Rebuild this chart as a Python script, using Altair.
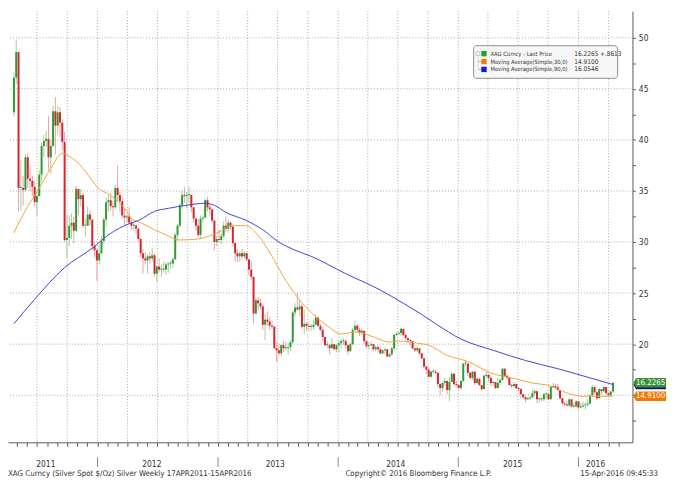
import altair as alt
import pandas as pd
import numpy as np

# ------------------------------------------------------------------ data
first_open = 42.7

close_2011 = [46.1, 48.6, 35.3, 35.3, 35.1, 38.3, 36.2, 36.0, 35.4, 33.9, 34.5, 36.6, 39.4, 39.9, 40.1, 38.3, 39.4, 42.8, 41.4, 42.7, 41.7, 39.8, 30.2, 30.4, 31.6, 31.9, 31.1, 35.2, 34.2, 34.6, 31.6, 31.6, 32.7, 32.2, 29.6, 29.2, 28.2]
high_2011 = [46.6, 49.8, 48.6, 38.0, 36.5, 38.6, 38.7, 37.5, 36.5, 36.0, 34.9, 37.0, 39.7, 40.5, 40.9, 42.3, 40.0, 43.3, 44.2, 43.3, 43.2, 42.0, 40.8, 32.6, 32.6, 32.8, 32.5, 35.5, 34.9, 35.2, 34.8, 32.3, 33.5, 33.1, 32.2, 30.0, 29.3]
low_2011 = [42.3, 45.5, 33.0, 33.1, 33.6, 34.9, 35.3, 35.0, 34.5, 33.5, 32.5, 34.5, 35.9, 38.3, 39.3, 37.0, 36.7, 39.3, 38.6, 40.6, 40.3, 39.0, 30.0, 28.4, 29.6, 30.3, 29.9, 31.0, 32.6, 33.5, 31.4, 30.5, 31.8, 31.6, 29.2, 28.5, 26.2]

close_2012 = [28.9, 30.1, 32.2, 33.9, 34.1, 33.5, 33.4, 35.3, 34.6, 34.0, 32.6, 32.4, 32.5, 31.9, 31.6, 31.6, 31.3, 30.3, 28.9, 28.4, 28.2, 28.6, 28.4, 28.7, 26.9, 27.6, 27.3, 27.3, 27.3, 27.8, 27.9, 27.9, 28.3, 30.7, 31.6, 33.6, 34.6, 34.5, 34.6, 34.6, 33.4, 32.3, 31.6, 30.7, 32.3, 32.4, 34.1, 33.4, 33.2, 32.1, 30.0, 30.3]
high_2012 = [29.7, 30.6, 32.4, 34.4, 34.6, 34.8, 34.0, 35.6, 37.5, 34.9, 34.5, 33.3, 32.8, 33.4, 32.3, 32.0, 31.8, 31.4, 30.4, 29.3, 29.0, 28.8, 29.0, 29.4, 28.9, 27.7, 28.4, 27.8, 28.1, 28.0, 28.0, 28.2, 28.5, 30.9, 31.8, 33.8, 35.0, 35.4, 34.9, 35.4, 34.6, 33.4, 32.4, 32.2, 32.6, 32.6, 34.2, 34.4, 33.7, 33.3, 32.2, 30.6]
low_2012 = [27.8, 28.8, 29.8, 31.5, 33.0, 33.1, 32.5, 33.2, 34.0, 33.0, 32.2, 31.7, 31.9, 31.7, 31.2, 31.1, 30.8, 30.0, 28.5, 26.9, 27.8, 26.9, 27.9, 28.1, 26.6, 26.1, 27.0, 26.6, 27.0, 26.8, 27.0, 27.4, 27.5, 28.3, 30.1, 31.4, 33.2, 33.8, 33.3, 33.8, 32.9, 31.9, 31.1, 30.5, 30.4, 31.9, 32.3, 33.0, 32.6, 31.9, 29.2, 29.6]

close_2013 = [30.2, 30.6, 31.6, 31.3, 31.9, 31.5, 29.9, 28.9, 28.6, 28.9, 28.6, 28.9, 28.3, 27.3, 26.6, 23.0, 24.3, 24.0, 23.7, 21.9, 22.4, 22.2, 21.8, 21.7, 19.6, 19.4, 19.1, 19.9, 19.6, 19.6, 19.7, 20.2, 23.1, 23.6, 23.4, 23.7, 21.7, 22.0, 21.8, 21.7, 21.7, 21.9, 22.6, 21.8, 21.4, 20.7, 19.9, 19.9, 19.6, 20.0, 19.5, 19.9]
high_2013 = [31.2, 30.9, 32.0, 32.5, 32.2, 32.0, 31.6, 30.0, 29.3, 29.1, 29.3, 29.1, 29.0, 28.3, 28.2, 26.4, 24.6, 24.6, 24.5, 23.8, 23.0, 23.2, 22.7, 22.3, 21.8, 20.2, 20.0, 20.0, 20.3, 20.2, 20.1, 20.4, 23.3, 24.0, 25.1, 24.3, 23.9, 23.4, 22.2, 22.1, 22.0, 22.4, 22.9, 22.7, 22.0, 21.7, 20.7, 20.3, 20.0, 20.6, 20.0, 20.0]
low_2013 = [29.9, 29.8, 30.4, 31.0, 30.9, 31.2, 29.6, 28.1, 28.0, 28.1, 28.3, 28.4, 28.1, 26.7, 26.3, 22.0, 22.9, 23.3, 23.4, 21.4, 20.4, 21.8, 21.4, 21.5, 19.5, 18.3, 18.9, 18.8, 19.2, 19.4, 19.0, 19.3, 20.0, 22.7, 23.2, 22.8, 21.5, 21.0, 21.3, 21.3, 21.3, 21.4, 21.9, 21.7, 21.3, 20.3, 19.8, 19.6, 19.0, 19.6, 19.4, 19.2]

close_2014 = [20.1, 20.3, 20.3, 19.9, 19.3, 20.0, 21.4, 21.8, 21.4, 21.1, 21.3, 20.3, 19.8, 19.9, 20.0, 19.5, 19.7, 19.5, 19.1, 19.4, 19.5, 18.8, 19.0, 19.6, 20.9, 21.0, 21.1, 21.5, 20.9, 20.6, 20.4, 20.3, 19.6, 19.4, 19.6, 19.1, 18.6, 17.8, 17.5, 16.8, 17.3, 17.3, 17.2, 16.1, 15.7, 16.2, 16.4, 15.5, 16.3, 17.1, 16.1, 16.0]
high_2014 = [20.3, 20.5, 20.6, 20.5, 20.0, 20.2, 21.6, 22.3, 22.0, 21.6, 21.6, 21.1, 20.2, 20.2, 20.3, 20.0, 19.9, 19.9, 19.7, 19.5, 19.6, 19.5, 19.1, 19.7, 21.0, 21.2, 21.2, 21.6, 21.4, 21.0, 20.6, 20.5, 20.0, 19.6, 19.8, 19.6, 19.0, 18.7, 17.9, 17.7, 17.4, 17.6, 17.5, 17.1, 16.2, 16.3, 16.7, 16.4, 16.8, 17.3, 17.2, 16.4]
low_2014 = [19.2, 19.6, 19.9, 19.6, 18.9, 19.3, 19.9, 21.3, 21.1, 20.8, 20.9, 20.0, 19.6, 19.5, 19.8, 19.4, 19.3, 19.2, 19.0, 19.0, 19.0, 18.7, 18.7, 18.9, 19.4, 20.8, 20.9, 20.8, 20.8, 20.4, 20.1, 19.9, 19.5, 19.2, 19.2, 18.9, 18.5, 17.6, 17.1, 16.8, 16.7, 17.1, 17.0, 15.8, 15.0, 15.3, 15.9, 15.1, 14.4, 16.3, 15.9, 15.8]

close_2015 = [15.7, 16.4, 18.1, 18.1, 17.2, 16.7, 17.3, 16.2, 16.6, 16.0, 15.6, 16.9, 17.0, 16.7, 16.2, 16.3, 15.7, 16.2, 16.5, 17.6, 16.9, 16.7, 16.0, 15.9, 16.1, 15.7, 15.6, 15.1, 14.8, 14.6, 14.7, 14.8, 15.2, 15.4, 14.6, 14.6, 14.6, 15.1, 15.1, 14.6, 15.8, 15.9, 15.8, 15.5, 14.7, 14.2, 14.1, 14.0, 14.6, 13.9, 13.9, 14.4]
high_2015 = [16.1, 16.5, 18.2, 18.5, 18.1, 17.3, 17.4, 17.4, 16.8, 16.7, 16.0, 17.0, 17.3, 17.1, 16.8, 16.4, 16.2, 16.7, 16.6, 17.7, 17.6, 17.1, 16.8, 16.1, 16.3, 16.2, 15.8, 15.7, 15.1, 14.9, 14.9, 14.9, 15.5, 15.6, 15.4, 14.8, 14.8, 15.2, 15.2, 15.1, 15.9, 16.2, 16.1, 16.1, 15.5, 14.8, 14.4, 14.4, 14.7, 14.3, 14.3, 14.5]
low_2015 = [15.6, 15.5, 16.3, 17.8, 16.9, 16.6, 16.5, 16.0, 16.1, 15.9, 15.4, 15.6, 16.7, 16.4, 15.9, 15.9, 15.6, 15.7, 16.0, 16.4, 16.8, 16.5, 15.9, 15.7, 15.7, 15.6, 15.4, 14.7, 14.7, 14.3, 14.5, 14.5, 14.7, 15.0, 14.2, 14.3, 14.4, 14.4, 14.6, 14.5, 14.6, 15.7, 15.6, 15.4, 14.6, 14.1, 13.9, 13.9, 13.8, 13.8, 13.7, 13.8]

close_2016 = [13.8, 13.9, 14.0, 14.1, 14.2, 15.0, 15.8, 15.3, 14.7, 15.6, 15.4, 15.8, 15.2, 15.0, 15.37, 16.2265]
high_2016 = [14.2, 14.3, 14.4, 14.3, 14.6, 15.1, 16.0, 15.9, 15.4, 15.7, 15.6, 15.9, 15.6, 15.3, 15.4, 16.3]
low_2016 = [13.6, 13.7, 13.8, 13.6, 13.9, 14.1, 14.9, 15.1, 14.5, 14.7, 15.1, 15.3, 15.1, 14.8, 14.9, 15.2]

# moving averages (week number -> value)
ma30_weeks = [1, 6, 12, 17, 22, 25, 31, 34, 38, 42, 46, 50, 52, 56, 62, 67, 73, 81, 87, 91, 95, 102, 106, 113, 118, 124, 130, 137, 143, 150, 156, 164, 168, 176, 181, 189, 198, 209, 217, 226, 234, 239, 248, 256, 261]
ma30_vals = [30.9, 33.1, 35.3, 37.2, 38.7, 38.4, 37.2, 36.3, 35.2, 34.7, 34.0, 33.0, 32.3, 31.9, 31.2, 30.7, 30.2, 30.3, 30.7, 31.1, 31.6, 31.6, 30.9, 28.6, 26.6, 24.6, 23.1, 21.8, 21.0, 21.2, 20.8, 20.2, 20.3, 20.1, 19.9, 18.9, 18.3, 17.1, 16.7, 16.2, 15.9, 15.4, 14.9, 14.9, 14.91]
ma90_weeks = [1, 10, 23, 35, 42, 51, 55, 62, 68, 76, 84, 88, 93, 102, 109, 116, 123, 130, 145, 160, 170, 178, 184, 195, 209, 223, 237, 251, 261]
ma90_vals = [22.0, 24.4, 27.5, 29.4, 30.7, 31.8, 32.1, 33.0, 33.3, 33.6, 33.8, 33.6, 32.9, 32.1, 31.2, 30.0, 29.2, 28.6, 26.9, 25.3, 24.0, 22.9, 22.0, 20.5, 19.4, 18.4, 17.6, 16.7, 16.05]

legend_names = ["XAG Curncy - Last Price", "Moving Average(Simple,30,0)", "Moving Average(Simple,90,0)"]
legend_values = ["16.2265", "14.9100", "16.0546"]
legend_change = "+.8613"

tag_values = [16.0546, 14.9100, 16.2265]
tag_labels = ["", "14.9100", "16.2265"]

year_labels = ["2011", "2012", "2013", "2014", "2015", "2016"]
year_mid_dates = ["2011-07-28", "2012-06-14", "2013-06-24", "2014-06-25", "2015-06-15", "2016-02-22"]
year_starts = ["2012-01-01", "2013-01-01", "2014-01-01", "2015-01-01", "2016-01-01"]
y_tick_values = [12.5, 15, 17.5, 20, 22.5, 25, 27.5, 30, 32.5, 35, 37.5, 40, 42.5, 45, 47.5, 50]
grid_levels = [15, 20, 25, 30, 35, 40, 45, 50]

footer_left = "XAG Curncy (Silver Spot  $/Oz) Silver  Weekly 17APR2011-15APR2016"
footer_mid = "Copyright\u00a9 2016 Bloomberg Finance L.P."
footer_right = "15-Apr-2016 09:45:33"

# ------------------------------------------------------------------ tables
close = close_2011 + close_2012 + close_2013 + close_2014 + close_2015 + close_2016
high = high_2011 + high_2012 + high_2013 + high_2014 + high_2015 + high_2016
low = low_2011 + low_2012 + low_2013 + low_2014 + low_2015 + low_2016
opens = [first_open] + close[:-1]
week_dates = pd.date_range("2011-04-22", periods=len(close), freq="7D")

c = pd.DataFrame({"date": week_dates.strftime("%Y-%m-%d"), "open": opens,
                  "close": close, "high": high, "low": low})
c["body_lo"] = c[["open", "close"]].min(axis=1)
c["body_hi"] = c[["open", "close"]].max(axis=1)
c.loc[(c.body_hi - c.body_lo) < 0.1, "body_hi"] = c.body_lo + 0.1
c["wick_hi"] = c[["high", "body_hi"]].max(axis=1)
c["wick_lo"] = c[["low", "body_lo"]].min(axis=1)
c["dir"] = np.where(c["close"] >= c["open"], "up", "down")

ma30 = pd.DataFrame({"date": [week_dates[w - 1].strftime("%Y-%m-%d") for w in ma30_weeks], "value": ma30_vals})
ma90 = pd.DataFrame({"date": [week_dates[w - 1].strftime("%Y-%m-%d") for w in ma90_weeks], "value": ma90_vals})

def ts(s):
    return int(pd.Timestamp(s).value // 10**6)

month_ticks = [int(t.value // 10**6) for t in pd.date_range("2011-05-01", "2016-05-01", freq="MS")]
quarter_dates = [d.strftime("%Y-%m-%d") for d in pd.date_range("2011-07-01", "2016-04-01", freq="QS")]

# ------------------------------------------------------------------ styling
W, H = 633, 437
FONT = "Liberation Sans Narrow, DejaVu Sans Condensed, Liberation Sans, Arial, sans-serif"
AX = "#5a5a5a"
GRID = "#a9a9a9"
TXT = "#333333"

x_scale = alt.Scale(domain=[ts("2011-04-19"), ts("2016-05-29")])
y_scale = alt.Scale(domain=[10.39, 52.6], nice=False, zero=False)
x_axis = alt.Axis(values=month_ticks, labels=False, title=None, grid=False, tickSize=4,
                  tickColor=AX, domainColor=AX, orient="bottom")
y_axis = alt.Axis(orient="right", values=y_tick_values, format="d",
                  labelExpr="datum.value >= 20 && datum.value % 5 == 0 ? datum.label : ''",
                  title=None, grid=False, tickSize=3, tickColor=AX, domainColor=AX,
                  labelColor=TXT, labelFont=FONT, labelFontSize=8.5, labelPadding=3)

def X(field="date"):
    return alt.X(f"{field}:T", scale=x_scale, axis=x_axis)

def Y(field):
    return alt.Y(f"{field}:Q", scale=y_scale, axis=y_axis)

one = lambda d: alt.Data(values=[d])

# ------------------------------------------------------------------ layers
vgrid = alt.Chart(pd.DataFrame({"date": quarter_dates})).mark_rule(
    color=GRID, strokeDash=[1, 2], strokeWidth=1).encode(x=X())
hgrid = alt.Chart(pd.DataFrame({"level": grid_levels})).mark_rule(
    color=GRID, strokeDash=[1, 2], strokeWidth=1).encode(y=Y("level"))

wicks = alt.Chart(c).mark_rule(strokeWidth=1).encode(
    x=X(), y=Y("wick_lo"), y2="wick_hi:Q",
    color=alt.Color("dir:N", scale=alt.Scale(domain=["up", "down"], range=["#9fcf9a", "#e8a2aa"]), legend=None))
bodies = alt.Chart(c).mark_bar(size=2).encode(
    x=X(), y=Y("body_lo"), y2="body_hi:Q",
    color=alt.Color("dir:N", scale=alt.Scale(domain=["up", "down"], range=["#2f9a33", "#d6232c"]), legend=None))

line30 = alt.Chart(ma30).mark_line(color="#f0a53a", strokeWidth=1, interpolate="monotone").encode(x=X(), y=Y("value"))
line90 = alt.Chart(ma90).mark_line(color="#4040d8", strokeWidth=1, interpolate="monotone").encode(x=X(), y=Y("value"))

# year labels & separators under the axis
year_text = alt.Chart(pd.DataFrame({"date": year_mid_dates, "label": year_labels})).mark_text(
    font=FONT, fontSize=8.5, color=TXT, baseline="middle").encode(
    x=X(), y=alt.value(H + 22), text="label:N")
year_sep = alt.Chart(pd.DataFrame({"date": year_starts})).mark_rule(color="#8a8a8a", strokeWidth=1).encode(
    x=X(), y=alt.value(H + 15), y2=alt.value(H + 25))

# footers
foot_l = alt.Chart(one({"t": footer_left})).mark_text(font=FONT, fontSize=8, color=TXT,
                                                     align="left", baseline="middle").encode(
    x=alt.value(0), y=alt.value(H + 32), text="t:N")
foot_m = alt.Chart(one({"t": footer_mid})).mark_text(font=FONT, fontSize=8, color=TXT,
                                                    align="left", baseline="middle").encode(
    x=alt.value(342), y=alt.value(H + 32), text="t:N")
foot_r = alt.Chart(one({"t": footer_right})).mark_text(font=FONT, fontSize=8, color=TXT,
                                                      align="right", baseline="middle").encode(
    x=alt.value(659), y=alt.value(H + 32), text="t:N")

# legend box
leg_box = alt.Chart(one({"k": 0})).mark_rect(fill="#f7f7f7", stroke="#8c8c8c", strokeWidth=1,
                                             cornerRadius=3).encode(
    x=alt.value(472), x2=alt.value(618), y=alt.value(35), y2=alt.value(68))
leg_tree = alt.Chart(one({"k": 0})).mark_rule(color="#b5b5b5", strokeWidth=1, strokeDash=[1, 1]).encode(
    x=alt.value(476.5), y=alt.value(45), y2=alt.value(59))
leg_tree_box = alt.Chart(one({"k": 0})).mark_square(size=14, filled=False, color="#b0b0b0",
                                                    strokeWidth=1).encode(
    x=alt.value(476.5), y=alt.value(43))
leg_layers = [leg_box, leg_tree, leg_tree_box]
leg_colors = ["#2f9a33", "#f07c00", "#1515e0"]
for i in range(3):
    yy = 43 + 8 * i
    if i > 0:
        leg_layers.append(alt.Chart(one({"k": 0})).mark_rule(color="#b5b5b5", strokeWidth=1).encode(
            x=alt.value(476.5), x2=alt.value(480), y=alt.value(yy)))
    leg_layers.append(alt.Chart(one({"k": 0})).mark_square(size=30, filled=True, opacity=1,
                                                           color=leg_colors[i]).encode(
        x=alt.value(482.5), y=alt.value(yy)))
    leg_layers.append(alt.Chart(one({"t": legend_names[i]})).mark_text(
        font=FONT, fontSize=5.9, color=TXT, align="left", baseline="middle").encode(
        x=alt.value(489), y=alt.value(yy), text="t:N"))
    leg_layers.append(alt.Chart(one({"t": legend_values[i]})).mark_text(
        font=FONT, fontSize=6.6, color=TXT, align="left", baseline="middle").encode(
        x=alt.value(574), y=alt.value(yy), text="t:N"))
leg_layers.append(alt.Chart(one({"t": legend_change})).mark_text(
    font=FONT, fontSize=6.6, color=TXT, align="left", baseline="middle").encode(
    x=alt.value(600), y=alt.value(43), text="t:N"))

# price tags on the right axis
tag_df = pd.DataFrame({"value": tag_values, "label": tag_labels,
                       "color": ["#141478", "#f07800", "#3b8f38"]})
TAG = "M-1,0 L-0.84,-0.29 L1,-0.29 L1,0.29 L-0.84,0.29 Z"
tags = alt.Chart(tag_df).mark_point(shape=TAG, filled=True, opacity=1, size=1089, strokeWidth=0).encode(
    x=alt.value(W + 17.5), y=Y("value"), color=alt.Color("color:N", scale=None))
tag_text = alt.Chart(tag_df[tag_df.label != ""]).mark_text(
    font=FONT, fontSize=8, color="white", align="center", baseline="middle").encode(
    x=alt.value(W + 18.5), y=Y("value"), text="label:N")

chart = alt.layer(
    vgrid, hgrid, wicks, bodies, line30, line90, year_sep, year_text,
    foot_l, foot_m, foot_r, *leg_layers, tags, tag_text
).resolve_scale(color="independent").properties(
    width=W, height=H,
    autosize=alt.AutoSizeParams(type="none"),
    padding={"left": 0, "top": 0, "right": 34, "bottom": 40},
    background="white",
).configure_view(strokeWidth=0)

chart.save("out.html", embed_options={"renderer": "svg", "actions": False})
